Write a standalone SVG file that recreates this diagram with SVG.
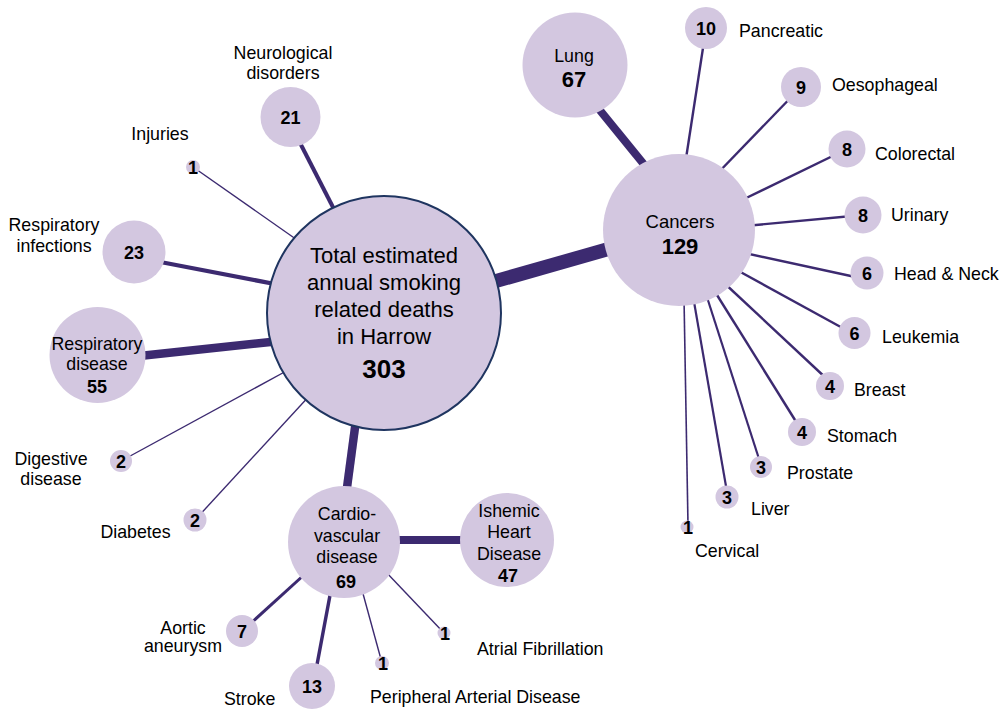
<svg xmlns="http://www.w3.org/2000/svg" width="1000" height="709" viewBox="0 0 1000 709">
<style>
text{font-family:"Liberation Sans",Arial,sans-serif;fill:#000;}
.n{fill:#d3c7e0;}
.lb{font-size:17.8px;}
.c{text-anchor:middle;}
.num{font-size:18px;font-weight:bold;text-anchor:middle;}
.l{stroke:#3c2a70;stroke-linecap:butt;fill:none;}
</style>
<rect width="1000" height="709" fill="#fff"/>
<g id="connectors" class="l">
<line x1="440" y1="297" x2="640" y2="240" stroke-width="14"/>
<line x1="594" y1="103" x2="655" y2="178" stroke-width="8"/>
<line x1="356" y1="420" x2="346" y2="495" stroke-width="8.5"/>
<line x1="390" y1="540" x2="470" y2="540" stroke-width="8"/>
<line x1="297" y1="137" x2="338" y2="217" stroke-width="4"/>
<line x1="193" y1="167" x2="300" y2="242" stroke-width="1.4"/>
<line x1="150" y1="260" x2="280" y2="285" stroke-width="4.2"/>
<line x1="130" y1="357" x2="280" y2="341" stroke-width="8.5"/>
<line x1="121" y1="461" x2="290" y2="369" stroke-width="1.4"/>
<line x1="195" y1="520" x2="312" y2="393" stroke-width="1.4"/>
<line x1="685" y1="165" x2="705" y2="35" stroke-width="2.4"/>
<line x1="715" y1="176" x2="801" y2="87" stroke-width="2.4"/>
<line x1="740" y1="201" x2="847" y2="149" stroke-width="2.4"/>
<line x1="745" y1="226" x2="863" y2="215" stroke-width="2.4"/>
<line x1="740" y1="252" x2="860" y2="278" stroke-width="2.4"/>
<line x1="735" y1="269" x2="848" y2="331" stroke-width="2.4"/>
<line x1="722" y1="281" x2="828" y2="380" stroke-width="2.4"/>
<line x1="712" y1="287" x2="800" y2="428" stroke-width="2.4"/>
<line x1="705" y1="291" x2="760" y2="462" stroke-width="2.2"/>
<line x1="693" y1="296" x2="727" y2="492" stroke-width="2.2"/>
<line x1="684" y1="298" x2="688" y2="525" stroke-width="1.6"/>
<line x1="305" y1="574" x2="250" y2="624" stroke-width="3"/>
<line x1="331" y1="590" x2="316" y2="670" stroke-width="3.5"/>
<line x1="362" y1="590" x2="382" y2="663" stroke-width="1.4"/>
<line x1="385" y1="571" x2="444" y2="633" stroke-width="1.4"/>
</g>
<g id="total">
<circle cx="384" cy="313" r="117" class="n" stroke="#1f3560" stroke-width="2"/>
<text class="c" x="384" y="263" font-size="22">Total estimated</text>
<text class="c" x="384" y="290" font-size="22">annual smoking</text>
<text class="c" x="384" y="317" font-size="22">related deaths</text>
<text class="c" x="384" y="344" font-size="22">in Harrow</text>
<text class="c" x="384" y="378" font-size="26" font-weight="bold">303</text>
</g>
<g id="cancers">
<circle cx="679" cy="230" r="76" class="n"/>
<text class="c" x="680" y="228" font-size="18.5">Cancers</text>
<text class="c" x="680" y="254" font-size="22" font-weight="bold">129</text>
</g>
<g id="lung">
<circle cx="575" cy="65" r="52.5" class="n"/>
<text class="c lb" x="574" y="62">Lung</text>
<text class="c" x="574" y="87" font-size="22" font-weight="bold">67</text>
</g>
<g id="pancreatic">
<circle cx="706" cy="28" r="21" class="n"/>
<text class="num" x="706" y="34.5">10</text>
<text class="lb" x="739" y="37">Pancreatic</text>
</g>
<g id="oesophageal">
<circle cx="801" cy="87" r="20" class="n"/>
<text class="num" x="801" y="93.5">9</text>
<text class="lb" x="832" y="91">Oesophageal</text>
</g>
<g id="colorectal">
<circle cx="847" cy="149" r="18.5" class="n"/>
<text class="num" x="847" y="155.5">8</text>
<text class="lb" x="875" y="160">Colorectal</text>
</g>
<g id="urinary">
<circle cx="863" cy="215" r="18.5" class="n"/>
<text class="num" x="863" y="221.5">8</text>
<text class="lb" x="891" y="221">Urinary</text>
</g>
<g id="headneck">
<circle cx="867" cy="273" r="16.5" class="n"/>
<text class="num" x="867" y="279.5">6</text>
<text class="lb" x="894" y="280">Head &amp; Neck</text>
</g>
<g id="leukemia">
<circle cx="854.5" cy="333" r="16" class="n"/>
<text class="num" x="854.5" y="339.5">6</text>
<text class="lb" x="882" y="343">Leukemia</text>
</g>
<g id="breast">
<circle cx="830" cy="386" r="14" class="n"/>
<text class="num" x="830" y="392.5">4</text>
<text class="lb" x="854" y="396">Breast</text>
</g>
<g id="stomach">
<circle cx="802" cy="432" r="14" class="n"/>
<text class="num" x="802" y="438.5">4</text>
<text class="lb" x="827" y="442">Stomach</text>
</g>
<g id="prostate">
<circle cx="761" cy="467" r="11" class="n"/>
<text class="num" x="761" y="473.5">3</text>
<text class="lb" x="787" y="479">Prostate</text>
</g>
<g id="liver">
<circle cx="727" cy="497" r="11.5" class="n"/>
<text class="num" x="727" y="503.5">3</text>
<text class="lb" x="751" y="515">Liver</text>
</g>
<g id="cervical">
<circle cx="687" cy="527" r="6.5" class="n"/>
<text class="num" x="688" y="533.5">1</text>
<text class="lb" x="695" y="557">Cervical</text>
</g>
<g id="neurological">
<circle cx="290.5" cy="117" r="30" class="n"/>
<text class="num" x="290.5" y="124" font-size="19">21</text>
<text class="c lb" x="283" y="59">Neurological</text>
<text class="c lb" x="283" y="79">disorders</text>
</g>
<g id="injuries">
<circle cx="193" cy="167" r="7" class="n"/>
<text class="num" x="193" y="173.5">1</text>
<text class="c lb" x="160" y="140">Injuries</text>
</g>
<g id="respinf">
<circle cx="134" cy="252" r="31.5" class="n"/>
<text class="num" x="134" y="259" font-size="19">23</text>
<text class="c lb" x="54" y="231">Respiratory</text>
<text class="c lb" x="54" y="252">infections</text>
</g>
<g id="respdis">
<circle cx="97.5" cy="355" r="48" class="n"/>
<text class="c lb" x="97" y="350">Respiratory</text>
<text class="c lb" x="97" y="370">disease</text>
<text class="num" x="97" y="393" font-size="19.5">55</text>
</g>
<g id="digestive">
<circle cx="121" cy="461" r="11" class="n"/>
<text class="num" x="121" y="467.5">2</text>
<text class="c lb" x="51" y="465">Digestive</text>
<text class="c lb" x="51" y="485">disease</text>
</g>
<g id="diabetes">
<circle cx="195" cy="520" r="11.5" class="n"/>
<text class="num" x="195" y="526.5">2</text>
<text class="c lb" x="135.5" y="538">Diabetes</text>
</g>
<g id="cardio">
<circle cx="344" cy="542" r="56" class="n"/>
<text class="c lb" x="347" y="520">Cardio-</text>
<text class="c lb" x="347" y="542">vascular</text>
<text class="c lb" x="347" y="563">disease</text>
<text class="num" x="346" y="588" font-size="22.5">69</text>
</g>
<g id="ihd">
<circle cx="507" cy="540" r="47" class="n"/>
<text class="c lb" x="509" y="517">Ishemic</text>
<text class="c lb" x="509" y="538">Heart</text>
<text class="c lb" x="509" y="560">Disease</text>
<text class="num" x="508" y="582" font-size="19.5">47</text>
</g>
<g id="aortic">
<circle cx="242" cy="631" r="16" class="n"/>
<text class="num" x="242" y="637.5">7</text>
<text class="c lb" x="183" y="634">Aortic</text>
<text class="c lb" x="183" y="652">aneurysm</text>
</g>
<g id="stroke">
<circle cx="312" cy="686" r="23" class="n"/>
<text class="num" x="312" y="693" font-size="19">13</text>
<text class="lb" x="224" y="705">Stroke</text>
</g>
<g id="pad">
<circle cx="382" cy="663" r="7" class="n"/>
<text class="num" x="383" y="669.5">1</text>
<text class="lb" x="370" y="703">Peripheral Arterial Disease</text>
</g>
<g id="af">
<circle cx="444" cy="633" r="6.5" class="n"/>
<text class="num" x="445" y="639.5">1</text>
<text class="lb" x="477" y="655">Atrial Fibrillation</text>
</g>
</svg>
